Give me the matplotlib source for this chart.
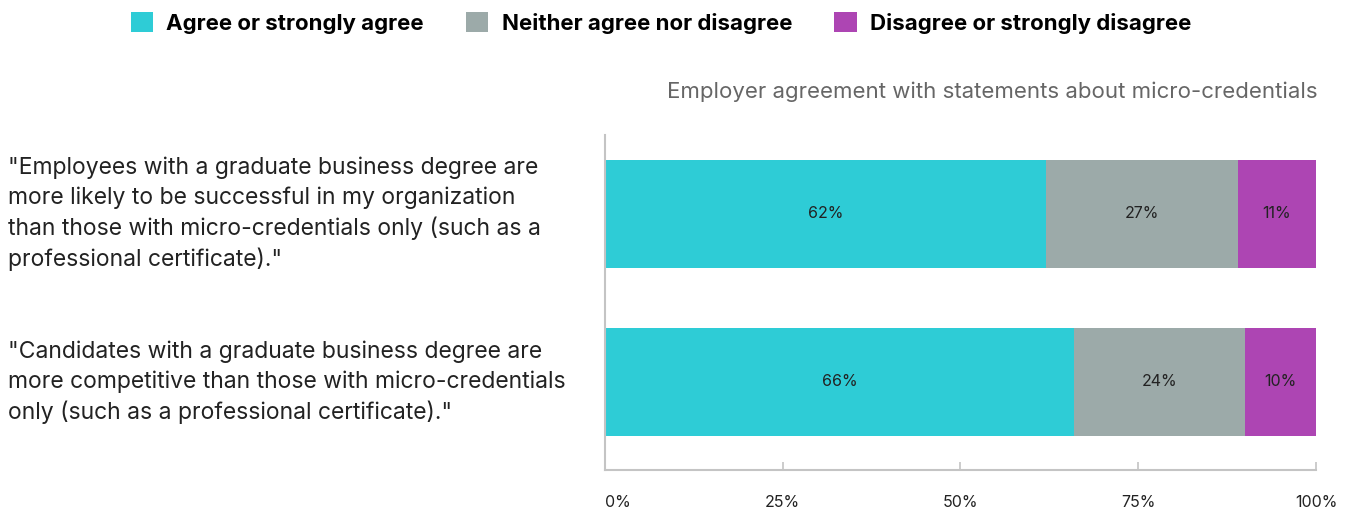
import matplotlib.pyplot as plt

# data
statements = [
    '"Employees with a graduate business degree are\nmore likely to be successful in my organization\nthan those with micro-credentials only (such as a\nprofessional certificate)."',
    '"Candidates with a graduate business degree are\nmore competitive than those with micro-credentials\nonly (such as a professional certificate)."',
]
agree = [62, 66]
neither = [27, 24]
disagree = [11, 10]
series_names = ['Agree or strongly agree', 'Neither agree nor disagree', 'Disagree or strongly disagree']
colors = ['#2ECCD6', '#9CAAA9', '#AD45B3']
tick_vals = [0, 25, 50, 75, 100]
tick_labels = ['0%', '25%', '50%', '75%', '100%']

plt.rcParams['font.family'] = ['Inter', 'DejaVu Sans']

fig = plt.figure(figsize=(13.51, 5.08), dpi=100)
ax = fig.add_axes([0.4478, 0.0748, 0.5263, 0.6594])

ypos = [1, 0]  # first statement on top
bar_h = 0.643
left = [0, 0]
for vals, name, c in zip([agree, neither, disagree], series_names, colors):
    ax.barh(ypos, vals, left=left, height=bar_h, color=c, label=name)
    for y, v, l in zip(ypos, vals, left):
        ax.text(l + v / 2, y, f'{v}%', ha='center', va='center', fontsize=11.5, color='#222222')
    left = [a + b for a, b in zip(left, vals)]

ax.set_xlim(0, 100)
ax.set_ylim(-0.524, 1.47)
ax.set_yticks([])
for s in ['top', 'right']:
    ax.spines[s].set_visible(False)
for s in ['left', 'bottom']:
    ax.spines[s].set_color('#c4c4c4')
    ax.spines[s].set_linewidth(1.5)

ax.set_xticks(tick_vals)
ax.set_xticklabels(tick_labels, fontsize=11.5, color='#222222')
ax.tick_params(axis='x', direction='in', length=6, width=1.2, color='#c4c4c4', pad=18)
ax.get_xticklabels()[0].set_horizontalalignment('left')

# statements on the left
for y, txt in zip(ypos, statements):
    x_fig = 8 / 1351
    ax.annotate(txt, xy=(x_fig, y), xycoords=('figure fraction', 'data'),
                ha='left', va='center', fontsize=16.5, color='#222222', linespacing=1.42)

fig.text(1318 / 1351, 1 - 92 / 508, 'Employer agreement with statements about micro-credentials',
         ha='right', va='center', fontsize=16, color='#666666')

fig.legend(loc='center', bbox_to_anchor=(661 / 1351, 1 - 23 / 508), ncol=3, frameon=False,
           prop={'weight': 'bold', 'size': 16}, handlelength=1.0, handleheight=1.0,
           columnspacing=1.9, handletextpad=0.6)

fig.savefig('out.png', dpi=100, facecolor='white')
